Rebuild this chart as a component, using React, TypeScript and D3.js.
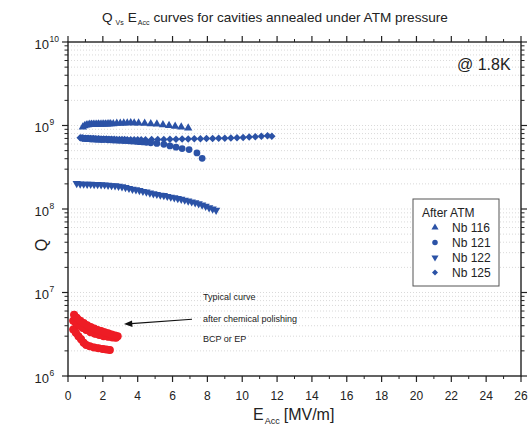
import React from 'react';
import * as d3 from 'd3';

// Nb 116 (up triangles)
const nb116E = [0.85, 0.95, 1.05, 1.15, 1.25, 1.35, 1.45, 1.55, 1.65, 1.75, 1.85, 1.95, 2.05, 2.15, 2.25, 2.35, 2.45, 2.6, 2.8, 3.0, 3.2, 3.4, 3.6, 3.8, 4.05, 4.4, 4.75, 5.1, 5.45, 5.8, 6.15, 6.5, 6.9]
const nb116Q = [9.6, 9.9, 10.1, 10.2, 10.3, 10.3, 10.3, 10.3, 10.3, 10.4, 10.3, 10.4, 10.4, 10.4, 10.4, 10.5, 10.5, 10.5, 10.6, 10.6, 10.7, 10.7, 10.8, 10.7, 10.7, 10.6, 10.5, 10.4, 10.2, 10.0, 9.8, 9.6, 9.3]

// Nb 121 (circles)
const nb121E = [0.8, 0.9, 1.0, 1.1, 1.2, 1.3, 1.4, 1.5, 1.6, 1.7, 1.8, 1.9, 2.0, 2.15, 2.3, 2.45, 2.6, 2.75, 2.9, 3.05, 3.2, 3.35, 3.5, 3.65, 3.8, 3.95, 4.1, 4.3, 4.5, 4.75, 5.1, 5.5, 5.85, 6.2, 6.55, 6.95, 7.4, 7.7]
const nb121Q = [7.1, 7.0, 7.0, 6.95, 6.95, 6.9, 6.9, 6.9, 6.85, 6.85, 6.85, 6.8, 6.8, 6.8, 6.75, 6.75, 6.7, 6.7, 6.65, 6.65, 6.6, 6.6, 6.55, 6.5, 6.5, 6.45, 6.4, 6.35, 6.3, 6.2, 6.1, 5.95, 5.7, 5.5, 5.3, 5.15, 4.7, 4.05]

// Nb 122 (down triangles)
const nb122E = [0.5, 0.7, 0.9, 1.1, 1.3, 1.5, 1.7, 1.9, 2.1, 2.3, 2.5, 2.7, 2.9, 3.1, 3.3, 3.5, 3.7, 3.9, 4.1, 4.3, 4.5, 4.7, 4.9, 5.1, 5.3, 5.5, 5.7, 5.9, 6.1, 6.3, 6.5, 6.7, 6.9, 7.1, 7.3, 7.5, 7.7, 7.9, 8.1, 8.3, 8.5]
const nb122Q = [2.03, 2.0, 1.99, 1.98, 1.98, 1.97, 1.97, 1.96, 1.95, 1.93, 1.91, 1.9, 1.88, 1.85, 1.81, 1.77, 1.73, 1.7, 1.67, 1.63, 1.6, 1.56, 1.53, 1.5, 1.47, 1.45, 1.42, 1.39, 1.37, 1.34, 1.31, 1.28, 1.25, 1.22, 1.19, 1.16, 1.12, 1.08, 1.04, 1.0, 0.97]

// Nb 125 (diamonds)
const nb125E = [0.7, 0.85, 1.0, 1.15, 1.3, 1.45, 1.6, 1.75, 1.9, 2.05, 2.2, 2.35, 2.5, 2.65, 2.8, 2.95, 3.1, 3.25, 3.4, 3.6, 3.8, 4.0, 4.2, 4.45, 4.8, 5.15, 5.5, 5.85, 6.2, 6.55, 6.9, 7.25, 7.6, 7.95, 8.3, 8.65, 9.0, 9.35, 9.7, 10.05, 10.4, 10.75, 11.1, 11.45, 11.7]
const nb125Q = [7.15, 7.1, 7.05, 7.05, 7.0, 7.0, 6.95, 6.95, 6.9, 6.9, 6.9, 6.85, 6.85, 6.85, 6.8, 6.8, 6.8, 6.8, 6.75, 6.75, 6.75, 6.75, 6.75, 6.75, 6.8, 6.8, 6.8, 6.85, 6.85, 6.9, 6.9, 6.95, 6.95, 7.0, 7.0, 7.05, 7.05, 7.1, 7.15, 7.2, 7.3, 7.35, 7.45, 7.55, 7.45]

// typical curves after chemical polishing (Q in 1e6)
const redAE = [0.35, 0.5, 0.7, 0.9, 1.1, 1.3, 1.5, 1.7, 1.9, 2.1, 2.3, 2.5, 2.7, 2.85]
const redAQ = [5.4, 5.0, 4.6, 4.3, 4.05, 3.85, 3.7, 3.55, 3.45, 3.35, 3.25, 3.15, 3.05, 3.0]
const redBE = [0.3, 0.45, 0.65, 0.85, 1.05, 1.3, 1.55, 1.8, 2.05, 2.3, 2.55, 2.75]
const redBQ = [4.6, 4.3, 4.0, 3.75, 3.55, 3.35, 3.2, 3.1, 3.0, 2.95, 2.9, 2.88]
const redCE = [0.3, 0.45, 0.6, 0.75, 0.9, 1.05, 1.25, 1.5, 1.75, 2.0, 2.2, 2.4]
const redCQ = [3.6, 3.3, 3.0, 2.75, 2.5, 2.35, 2.27, 2.2, 2.15, 2.11, 2.08, 2.05]

const legendLabels = ['Nb 116', 'Nb 121', 'Nb 122', 'Nb 125']
const xTicks = [0, 2, 4, 6, 8, 10, 12, 14, 16, 18, 20, 22, 24, 26]
const yDecades = [6, 7, 8, 9, 10]

const blue = '#2b52a6'
const red = '#ee1c25'
const font = 'Liberation Sans, Arial, sans-serif'

const margin = { left: 68, top: 42, right: 521, bottom: 376 }

export default function App() {
  const x = d3.scaleLinear().domain([0, 26]).range([margin.left, margin.right])
  const y = d3.scaleLog().domain([1e6, 1e10]).range([margin.bottom, margin.top])

  const triUp = d3.symbol().type(d3.symbolTriangle).size(30)()
  const circ = d3.symbol().type(d3.symbolCircle).size(36)()
  const square = d3.symbol().type(d3.symbolSquare).size(28)()
  const legendSym = [
    { d: d3.symbol().type(d3.symbolTriangle).size(22)(), rot: 0 },
    { d: d3.symbol().type(d3.symbolCircle).size(24)(), rot: 0 },
    { d: d3.symbol().type(d3.symbolTriangle).size(22)(), rot: 180 },
    { d: d3.symbol().type(d3.symbolSquare).size(18)(), rot: 45 },
  ]

  const minors: number[] = []
  yDecades.slice(0, 4).forEach(p => {
    for (let k = 2; k <= 9; k++) minors.push(k * Math.pow(10, p))
  })
  const grid = minors.concat([1e7, 1e8, 1e9])
  const xMinor = d3.range(1, 26, 2)

  const pts = (es: number[], qs: number[], mult: number) => es.map((e, i) => [x(e), y(qs[i] * mult)])

  const reds = [pts(redCE, redCQ, 1e6), pts(redBE, redBQ, 1e6), pts(redAE, redAQ, 1e6)]

  return (
    <svg width={528} height={432} style={{ display: 'block', position: 'absolute', left: 0, top: 0 }} fontFamily={font}>
      <rect width={528} height={432} fill="#fff" />

      {/* title */}
      <text x={102} y={22} fontSize={13.6} fill="#222">
        Q<tspan fontSize={7} dy={3} dx={3}>Vs</tspan>
        <tspan dy={-3} dx={4}>E</tspan>
        <tspan fontSize={7} dy={3} dx={1}>Acc</tspan>
        <tspan dy={-3} dx={4}>curves for cavities annealed under ATM pressure</tspan>
      </text>

      {/* gridlines */}
      {grid.map(v => (
        <line key={'g' + v} x1={margin.left} x2={margin.right} y1={y(v)} y2={y(v)}
          stroke="#cfcfcf" strokeWidth={0.8} strokeDasharray="1,2" />
      ))}

      {/* frame */}
      <rect x={margin.left} y={margin.top} width={margin.right - margin.left} height={margin.bottom - margin.top}
        fill="none" stroke="#222" strokeWidth={1.4} />

      {/* x ticks */}
      {xTicks.map(t => (
        <g key={'xt' + t}>
          <line x1={x(t)} x2={x(t)} y1={margin.bottom} y2={margin.bottom + 6} stroke="#222" strokeWidth={1.2} />
          <line x1={x(t)} x2={x(t)} y1={margin.top} y2={margin.top - 6} stroke="#222" strokeWidth={1.2} />
          <text x={x(t)} y={400} fontSize={12} textAnchor="middle" fill="#222">{t}</text>
        </g>
      ))}
      {xMinor.map(t => (
        <g key={'xm' + t}>
          <line x1={x(t)} x2={x(t)} y1={margin.bottom} y2={margin.bottom + 3} stroke="#222" strokeWidth={1} />
          <line x1={x(t)} x2={x(t)} y1={margin.top} y2={margin.top - 3} stroke="#222" strokeWidth={1} />
        </g>
      ))}

      {/* y ticks */}
      {yDecades.map(p => (
        <g key={'yt' + p}>
          <line x1={margin.left} x2={margin.left - 6} y1={y(Math.pow(10, p))} y2={y(Math.pow(10, p))} stroke="#222" strokeWidth={1.2} />
          <line x1={margin.right} x2={margin.right + 6} y1={y(Math.pow(10, p))} y2={y(Math.pow(10, p))} stroke="#222" strokeWidth={1.2} />
          <text x={49} y={y(Math.pow(10, p)) + 6.5} fontSize={13} textAnchor="end" fill="#222">10</text>
          <text x={49.5} y={y(Math.pow(10, p)) - 0.5} fontSize={8.5} textAnchor="start" fill="#222">{p}</text>
        </g>
      ))}
      {minors.map(v => (
        <g key={'ym' + v}>
          <line x1={margin.left} x2={margin.left - 3.5} y1={y(v)} y2={y(v)} stroke="#222" strokeWidth={1} />
          <line x1={margin.right} x2={margin.right + 3.5} y1={y(v)} y2={y(v)} stroke="#222" strokeWidth={1} />
        </g>
      ))}

      {/* axis labels */}
      <text x={253} y={420} fontSize={16} fill="#222">
        E<tspan fontSize={9} dy={4} dx={1}>Acc</tspan>
        <tspan dy={-4} dx={4}>[MV/m]</tspan>
      </text>
      <text transform="translate(47,245) rotate(-90)" fontSize={16} textAnchor="middle" fill="#222">Q</text>
      <text x={457} y={70} fontSize={16} fill="#222">@ 1.8K</text>

      {/* red typical curves */}
      {reds.map((s, si) => (
        <g key={'r' + si}>
          {s.map(([px, py], i) => <circle key={i} cx={px} cy={py} r={4} fill={red} />)}
          <path d={d3.line()(s as [number, number][]) || ''} fill="none" stroke={red} strokeWidth={7} strokeLinecap="round" strokeLinejoin="round" />
        </g>
      ))}

      {/* blue series */}
      {nb116E.map((e, i) => (
        <path key={'a' + i} d={triUp || ''} transform={`translate(${x(e)},${y(nb116Q[i] * 1e8)})`} fill={blue} />
      ))}
      {nb125E.map((e, i) => (
        <path key={'d' + i} d={square || ''} transform={`translate(${x(e)},${y(nb125Q[i] * 1e8)}) rotate(45)`} fill={blue} />
      ))}
      {nb121E.map((e, i) => (
        <path key={'b' + i} d={circ || ''} transform={`translate(${x(e)},${y(nb121Q[i] * 1e8)})`} fill={blue} />
      ))}
      {nb122E.map((e, i) => (
        <path key={'c' + i} d={triUp || ''} transform={`translate(${x(e)},${y(nb122Q[i] * 1e8)}) rotate(180)`} fill={blue} />
      ))}

      {/* annotation */}
      <text x={203} y={300} fontSize={9} fill="#222">Typical curve</text>
      <text x={203} y={321.5} fontSize={9} fill="#222">after chemical polishing</text>
      <text x={203} y={341.5} fontSize={9} fill="#222">BCP or EP</text>
      <line x1={192} y1={319.3} x2={131} y2={323.6} stroke="#111" strokeWidth={1.1} />
      <path d="M124,324.1 L132,320.6 L132.5,327 Z" fill="#111" />

      {/* legend */}
      <rect x={413} y={199} width={86} height={87} fill="#fff" stroke="#555" strokeWidth={1} />
      <text x={422} y={217} fontSize={12} fill="#222">After ATM</text>
      {legendLabels.map((l, i) => (
        <g key={l}>
          <path d={legendSym[i].d || ''} transform={`translate(435,${227.5 + i * 15}) rotate(${legendSym[i].rot})`} fill={blue} />
          <text x={452} y={232 + i * 15} fontSize={12} fill="#222">{l}</text>
        </g>
      ))}
    </svg>
  )
}
